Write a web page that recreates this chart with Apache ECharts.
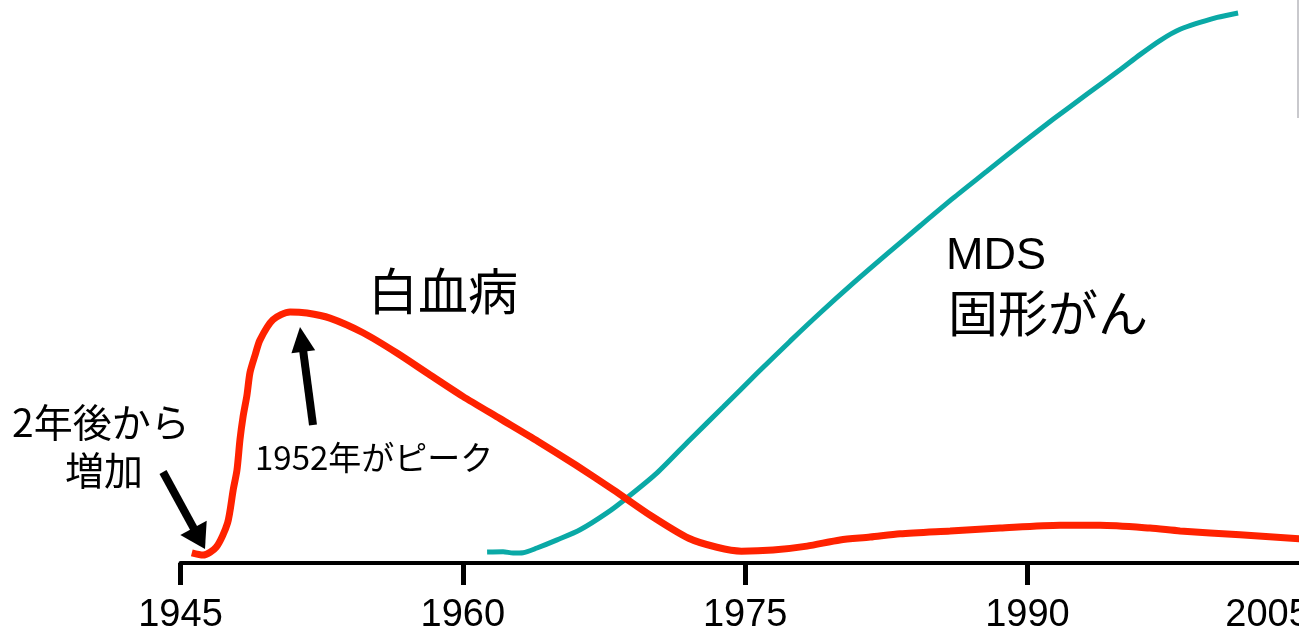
<!DOCTYPE html>
<html>
<head>
<meta charset="utf-8">
<script src="https://cdn.jsdelivr.net/npm/echarts@6/dist/echarts.min.js"></script>
<style>
  html, body { margin: 0; padding: 0; background: #ffffff; }
  #chart { width: 1299px; height: 632px; }
</style>
</head>
<body>
<div id="chart"></div>
<script>
// Year ticks on the time axis
const yearTicks = [1945, 1960, 1975, 1990, 2005];

// Leukemia (白血病) incidence curve: [year, relative level]
const leukemiaYears = [1945.6, 1946.2, 1946.9, 1947.5, 1947.8, 1948.0, 1948.16, 1948.32, 1948.53, 1948.69, 1948.96,
  1949.22, 1949.91, 1950.82, 1951.72, 1952.94, 1954.7, 1956.5, 1958.26, 1960.0, 1962.0, 1964.0, 1966.0,
  1968.0, 1970.0, 1972.0, 1973.5, 1974.8, 1976.48, 1978.29, 1980.04, 1981.64, 1983.23,
  1985.89, 1988.54, 1991.73, 1993.86, 1996.51, 1998.11, 2001.29, 2004.43, 2005.0];
const leukemiaLevels = [1.8, 1.4, 2.8, 7.1, 13.0, 16.5, 21.9, 25.9, 29.8, 33.8, 36.9,
  39.6, 43.2, 44.6, 44.4, 43.5, 40.9, 37.3, 33.4, 29.6, 25.6, 21.6, 17.4,
  13.0, 8.4, 4.4, 2.8, 2.1, 2.3, 3.0, 4.1, 4.6, 5.2,
  5.7, 6.2, 6.7, 6.7, 6.2, 5.7, 5.0, 4.3, 4.1];

// MDS / solid cancer (MDS 固形がん) curve: [year, relative level]
const mdsYears = [1961.29, 1962.14, 1962.67, 1963.2, 1963.94, 1965.01, 1966.23, 1967.66, 1968.73, 1970.32,
  1972.07, 1973.83, 1975.63, 1977.39, 1978.98, 1980.74, 1982.54, 1984.3, 1986.05, 1987.85, 1989.61,
  1991.36, 1993.17, 1994.92, 1995.98, 1997.04, 1998.11, 2000.08, 2001.19];
const mdsLevels = [1.95, 2.0, 1.78, 1.83, 2.66, 4.1, 5.9, 8.9, 11.6, 16.0,
  21.9, 27.7, 33.7, 39.4, 44.4, 49.7, 54.9, 59.9, 64.8, 69.6, 74.3,
  78.8, 83.3, 87.6, 90.3, 92.8, 94.8, 96.9, 97.7];

const pair = (xs, ys) => xs.map((x, i) => [x, ys[i]]);

const jpFont = "'Noto Sans CJK JP', 'Noto Sans', sans-serif";
const latinFont = "'Liberation Sans', Arial, sans-serif";
const narrowFont = "'Liberation Sans Narrow', 'Liberation Sans', sans-serif";

// Thick black annotation arrow: shaft + triangular head
function arrow(x1, y1, x2, y2, headLen, headW, shaftW) {
  const dx = x2 - x1, dy = y2 - y1;
  const len = Math.hypot(dx, dy);
  const ux = dx / len, uy = dy / len;
  const px = -uy, py = ux;
  const bx = x2 - ux * headLen, by = y2 - uy * headLen;
  return [
    { type: 'line', shape: { x1: x1, y1: y1, x2: bx + ux * 2, y2: by + uy * 2 },
      style: { stroke: '#000', lineWidth: shaftW }, z: 50 },
    { type: 'polygon', shape: { points: [[x2, y2], [bx + px * headW / 2, by + py * headW / 2], [bx - px * headW / 2, by - py * headW / 2]] },
      style: { fill: '#000' }, z: 50 }
  ];
}

function label(text, x, y, size, family) {
  return { type: 'text', x: x, y: y, z: 60,
    style: { text: text, fontSize: size, fontFamily: family, fill: '#000', textVerticalAlign: 'top', textAlign: 'left' } };
}

const chart = echarts.init(document.getElementById('chart'), null, { renderer: 'canvas' });

chart.setOption({
  animation: false,
  backgroundColor: '#ffffff',
  grid: { left: 180.5, top: 0, width: 1129.3, bottom: 69, containLabel: false, outerBoundsMode: 'none' },
  xAxis: {
    type: 'value',
    min: yearTicks[0],
    max: yearTicks[yearTicks.length - 1],
    interval: 15,
    axisLine: { show: true, onZero: false, lineStyle: { color: '#000', width: 4 } },
    axisTick: { show: true, length: 22, lineStyle: { color: '#000', width: 5 } },
    axisLabel: { show: true, margin: 34, fontSize: 38, fontFamily: narrowFont, color: '#000',
      alignMaxLabel: 'right', formatter: v => String(v) },
    splitLine: { show: false }
  },
  yAxis: { type: 'value', min: 0, max: 100, show: false, splitLine: { show: false } },
  series: [
    {
      name: '白血病', type: 'line', data: pair(leukemiaYears, leukemiaLevels),
      smooth: 0.25, showSymbol: false, clip: false,
      lineStyle: { color: '#ff2200', width: 7 }, z: 10
    },
    {
      name: 'MDS 固形がん', type: 'line', data: pair(mdsYears, mdsLevels),
      smooth: 0.25, showSymbol: false, clip: false,
      lineStyle: { color: '#0aa9a6', width: 5 }, z: 9
    }
  ],
  graphic: [
    label('白血病', 368, 266, 50, jpFont),
    label('MDS', 946, 234, 45, latinFont),
    label('固形がん', 948, 288, 50, jpFont),
    label('2年後から', 12, 403, 39, jpFont),
    label('増加', 65, 451, 39, jpFont),
    label('1952年がピーク', 255, 441, 33, jpFont),
    ...arrow(163, 472, 205, 549, 24, 30, 8),
    ...arrow(313, 425, 300, 327, 25, 24, 8),
    { type: 'rect', shape: { x: 1297, y: 0, width: 2, height: 118 }, style: { fill: '#c9c9cd' }, z: 70 }
  ]
});
</script>
</body>
</html>
